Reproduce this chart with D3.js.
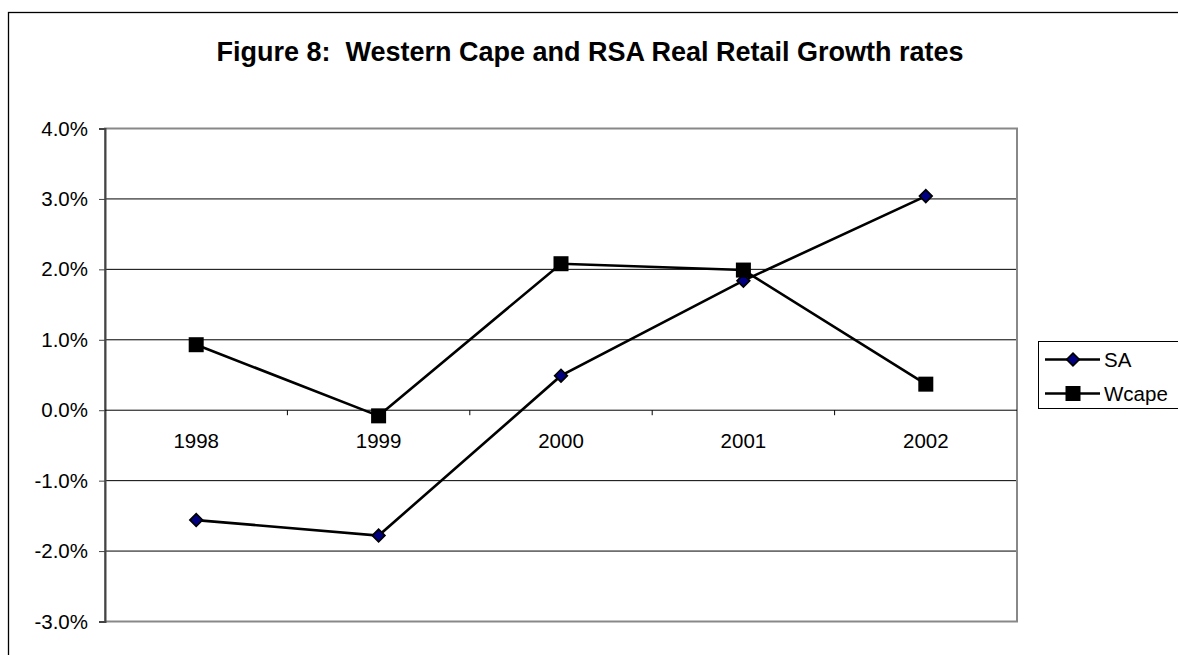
<!DOCTYPE html>
<html>
<head>
<meta charset="utf-8">
<script src="https://cdn.jsdelivr.net/npm/d3@7"></script>
<style>
  html, body { margin: 0; padding: 0; background: #fff; }
  svg { display: block; }
  text { font-family: "Liberation Sans", Arial, sans-serif; }
</style>
</head>
<body>
<svg id="chart" width="1178" height="655"></svg>
<script>
const years = ["1998", "1999", "2000", "2001", "2002"];
const saValues = [-0.0156, -0.0178, 0.0049, 0.0184, 0.0304];
const wcapeValues = [0.0093, -0.0008, 0.0208, 0.0199, 0.0037];
const yTicks = [-0.03, -0.02, -0.01, 0, 0.01, 0.02, 0.03, 0.04];
const yTickLabels = ["-3.0%", "-2.0%", "-1.0%", "0.0%", "1.0%", "2.0%", "3.0%", "4.0%"];
const seriesNames = ["SA", "Wcape"];
const titleText = "Figure 8:  Western Cape and RSA Real Retail Growth rates";

const svg = d3.select("#chart");
const W = 1178, H = 655;
const plot = { left: 105, right: 1017, top: 128.5, bottom: 621.5 };
const FS = 20.5;
const LW = 2.6;

// outer chart border (extends beyond the window on the right/bottom)
svg.append("rect")
  .attr("x", 8.5).attr("y", 12.5)
  .attr("width", W + 10).attr("height", H + 10)
  .attr("fill", "#fff").attr("stroke", "#000").attr("stroke-width", 1.3);

// title
svg.append("text")
  .attr("x", 590).attr("y", 61)
  .attr("text-anchor", "middle")
  .style("white-space", "pre")
  .attr("xml:space", "preserve")
  .attr("font-size", 27).attr("font-weight", "bold")
  .text(titleText);

const x = d3.scaleBand().domain(years).range([plot.left, plot.right]);
const y = d3.scaleLinear().domain([-0.03, 0.04]).range([plot.bottom, plot.top]);

// gridlines
svg.append("g").selectAll("line")
  .data(yTicks.filter(t => t !== 0 && t !== 0.04 && t !== -0.03))
  .join("line")
  .attr("x1", plot.left).attr("x2", plot.right)
  .attr("y1", d => y(d)).attr("y2", d => y(d))
  .attr("stroke", "#000").attr("stroke-width", 1);

// plot area border
svg.append("rect")
  .attr("x", plot.left).attr("y", plot.top)
  .attr("width", plot.right - plot.left).attr("height", plot.bottom - plot.top)
  .attr("fill", "none").attr("stroke", "#888").attr("stroke-width", 2);

// y axis
const yAxis = d3.axisLeft(y).tickValues(yTicks).tickSize(6).tickPadding(11)
  .tickFormat((d, i) => yTickLabels[i]);
const gy = svg.append("g").attr("transform", `translate(${plot.left},0)`).call(yAxis);
gy.select(".domain").attr("stroke", "#444").attr("stroke-width", 2);
gy.selectAll(".tick line").attr("stroke", "#444").attr("stroke-width", 1);
gy.selectAll(".tick text").attr("font-size", FS).attr("fill", "#000")
  .attr("font-family", "Liberation Sans, Arial, sans-serif");

// x axis at zero
const xAxis = d3.axisBottom(x).tickSize(0).tickPadding(23);
const gx = svg.append("g").attr("transform", `translate(0,${y(0)})`).call(xAxis);
gx.select(".domain").remove();
gx.selectAll(".tick text").attr("font-size", FS).attr("fill", "#000")
  .attr("font-family", "Liberation Sans, Arial, sans-serif");
svg.append("line")
  .attr("x1", plot.left).attr("x2", plot.right)
  .attr("y1", y(0)).attr("y2", y(0))
  .attr("stroke", "#000").attr("stroke-width", 1);
// category boundary ticks
svg.append("g").selectAll("line")
  .data(years.slice(1))
  .join("line")
  .attr("x1", d => x(d)).attr("x2", d => x(d))
  .attr("y1", y(0)).attr("y2", y(0) + 5)
  .attr("stroke", "#000").attr("stroke-width", 1);

const cx = d => x(d) + x.bandwidth() / 2;
const line = d3.line().x((d, i) => cx(years[i])).y(d => y(d));

// lines
svg.append("path").datum(saValues).attr("d", line)
  .attr("fill", "none").attr("stroke", "#000").attr("stroke-width", LW);
svg.append("path").datum(wcapeValues).attr("d", line)
  .attr("fill", "none").attr("stroke", "#000").attr("stroke-width", LW);

// markers
const diamondPath = d3.symbol().type(d3.symbolSquare).size(80);
svg.append("g").selectAll("path")
  .data(saValues).join("path")
  .attr("transform", (d, i) => `translate(${cx(years[i])},${y(d)}) rotate(45)`)
  .attr("d", diamondPath)
  .attr("fill", "#000080").attr("stroke", "#000").attr("stroke-width", 1.7);

svg.append("g").selectAll("rect")
  .data(wcapeValues).join("rect")
  .attr("x", (d, i) => cx(years[i]) - 7.5).attr("y", d => y(d) - 7.5)
  .attr("width", 15).attr("height", 15)
  .attr("fill", "#000");

// legend
const lg = svg.append("g");
lg.append("rect")
  .attr("x", 1038.5).attr("y", 341.5).attr("width", 150).attr("height", 67)
  .attr("fill", "#fff").attr("stroke", "#000").attr("stroke-width", 1);
const rows = [359.5, 393.5];
seriesNames.forEach((name, i) => {
  const ry = rows[i];
  lg.append("line").attr("x1", 1045).attr("x2", 1100).attr("y1", ry).attr("y2", ry)
    .attr("stroke", "#000").attr("stroke-width", LW);
  if (i === 0) {
    lg.append("path")
      .attr("transform", `translate(1073,${ry}) rotate(45)`)
      .attr("d", diamondPath)
      .attr("fill", "#000080").attr("stroke", "#000").attr("stroke-width", 1.7);
  } else {
    lg.append("rect").attr("x", 1065.5).attr("y", ry - 7.5).attr("width", 15).attr("height", 15)
      .attr("fill", "#000");
  }
  lg.append("text").attr("x", 1104).attr("y", ry + 7.5)
    .attr("font-size", FS).text(name);
});
</script>
</body>
</html>
